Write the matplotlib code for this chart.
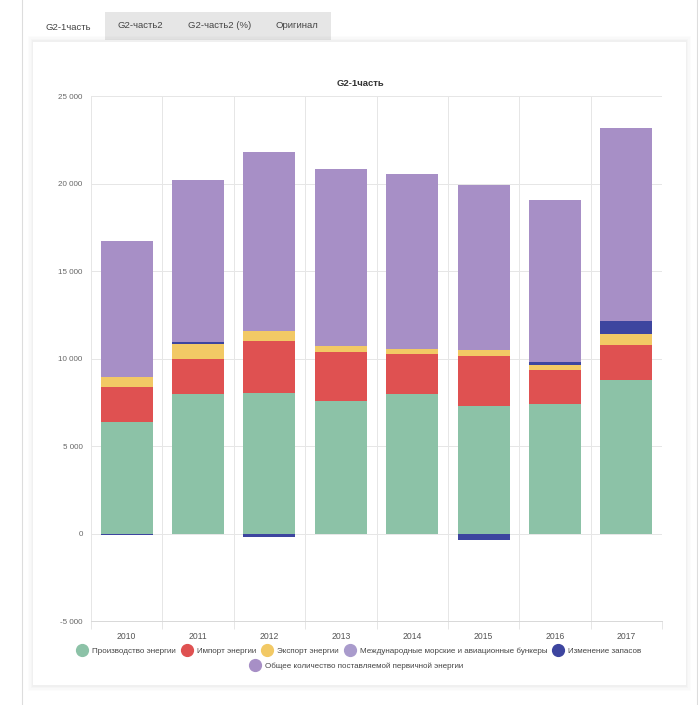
import numpy as np
import matplotlib
matplotlib.use('Agg')
import matplotlib.pyplot as plt
from matplotlib.patches import Rectangle
from matplotlib.lines import Line2D
import matplotlib.ticker as ticker

plt.rcParams['font.family'] = ['Liberation Sans', 'DejaVu Sans']

# данные
years = ['2010', '2011', '2012', '2013', '2014', '2015', '2016', '2017']
proizvodstvo = [6370, 7970, 8030, 7590, 7970, 7290, 7420, 8750]
import_en = [2000, 2020, 2950, 2800, 2300, 2830, 1900, 2020]
eksport = [570, 850, 620, 340, 270, 370, 310, 630]
bunkery = [0, 0, 0, 0, 0, 0, 0, 0]
zapasy = [-100, 80, -210, 0, -30, -360, 190, 760]
obshee = [7780, 9280, 10220, 10120, 10020, 9430, 9240, 11010]

nazvaniya = ['Производство энергии', 'Импорт энергии', 'Экспорт энергии',
             'Международные морские и авиационные бункеры', 'Изменение запасов',
             'Общее количество поставляемой первичной энергии']
serii = [proizvodstvo, import_en, eksport, bunkery, zapasy, obshee]
cveta = ['#8cc2a7', '#df5151', '#f2c965', '#a99bcc', '#3d459f', '#a78fc6']

tabs = ['G2-1часть', 'G2-часть2', 'G2-часть2 (%)', 'Оригинал']

W, H = 698, 705
fig = plt.figure(figsize=(W / 100, H / 100), dpi=100)


def px(x, y):
    return x / W, 1 - y / H


# внешняя рамка
fig.add_artist(Line2D([22 / W, 22 / W], [0, 1], color='#dddddd', lw=0.8))
fig.add_artist(Line2D([697 / W, 697 / W], [0, 1], color='#dddddd', lw=0.8))

# вкладки
x0, y0 = px(105, 40)
fig.add_artist(Rectangle((x0, y0), (331 - 105) / W, 28 / H, color='#e6e6e6', lw=0))
x0, y0 = px(33, 42)
fig.add_artist(Rectangle((x0, y0), (105 - 33) / W, 30 / H, color='white', lw=0))
tab_x = [68, 140, 220, 297]
tab_y = [27, 25, 25, 25]
for t, tx, ty in zip(tabs, tab_x, tab_y):
    fig.text(tx / W, 1 - ty / H, t, ha='center', va='center', fontsize=6.8, color='#444444')

# карточка с тенью
for i, a in enumerate([0.012, 0.012, 0.015, 0.02]):
    d = (4 - i) * 1.2
    x0, y0 = px(33 - d, 685 + d + 1)
    fig.add_artist(Rectangle((x0, y0), (653 + 2 * d) / W, (645 + 2 * d) / H,
                             color='black', alpha=a, lw=0))
x0, y0 = px(33, 685)
fig.add_artist(Rectangle((x0, y0), 653 / W, 643 / H, color='white', lw=0))

# заголовок
fig.text(360 / W, 1 - 84 / H, 'G2-1часть', ha='center', va='center',
         fontsize=6.8, fontweight='bold', color='#333333')

ax = fig.add_axes([91 / W, 1 - 621 / H, (662 - 91) / W, (621 - 96) / H])
ax.set_zorder(2)
ax.patch.set_alpha(0)

x = np.arange(len(years))
pos = np.zeros(len(years))
neg = np.zeros(len(years))
for vals, c in zip(serii, cveta):
    v = np.array(vals, dtype=float)
    bottom = np.where(v >= 0, pos, neg)
    ax.bar(x, v, 0.73, bottom=bottom, color=c, lw=0, zorder=3)
    pos = pos + np.where(v >= 0, v, 0)
    neg = neg + np.where(v < 0, v, 0)

ax.set_xlim(-0.5, len(years) - 0.5)
ax.set_ylim(-5000, 25000)
ax.yaxis.set_major_locator(ticker.MultipleLocator(5000))
ax.yaxis.set_major_formatter(ticker.FuncFormatter(lambda v, p: f'{int(v):,}'.replace(',', ' ')))
ax.set_xticks(x)
ax.set_xticklabels(years)
ax.set_xticks(np.arange(-0.5, len(years)), minor=True)
ax.grid(axis='y', color='#e6e6e6', lw=0.7, zorder=0)
ax.grid(axis='x', which='minor', color='#e6e6e6', lw=0.7, zorder=0)
for s in ['top', 'right', 'left']:
    ax.spines[s].set_visible(False)
ax.spines['bottom'].set_color('#d8d8d8')
ax.spines['bottom'].set_linewidth(0.7)
ax.tick_params(axis='y', length=0, labelsize=5.8, labelcolor='#666666', pad=6)
ax.tick_params(axis='x', which='major', length=0, labelsize=6.2, labelcolor='#555555', pad=8)
ax.tick_params(axis='x', which='minor', length=6, color='#e6e6e6', width=0.7)

# легенда
hendly = [Line2D([], [], marker='o', ls='', markersize=8.5, color=c) for c in cveta]
leg1 = fig.legend(hendly[:5], nazvaniya[:5], loc='center', ncol=5,
                  bbox_to_anchor=(359 / W, 1 - 651 / H), frameon=False, fontsize=5.8,
                  handletextpad=0.5, columnspacing=0.6, labelcolor='#444444',
                  handlelength=1.5)
leg2 = fig.legend(hendly[5:], nazvaniya[5:], loc='center', ncol=1,
                  bbox_to_anchor=(356 / W, 1 - 666 / H), frameon=False, fontsize=5.8,
                  handletextpad=0.5, labelcolor='#444444', handlelength=1.5)

fig.savefig('out.png', dpi=100)
